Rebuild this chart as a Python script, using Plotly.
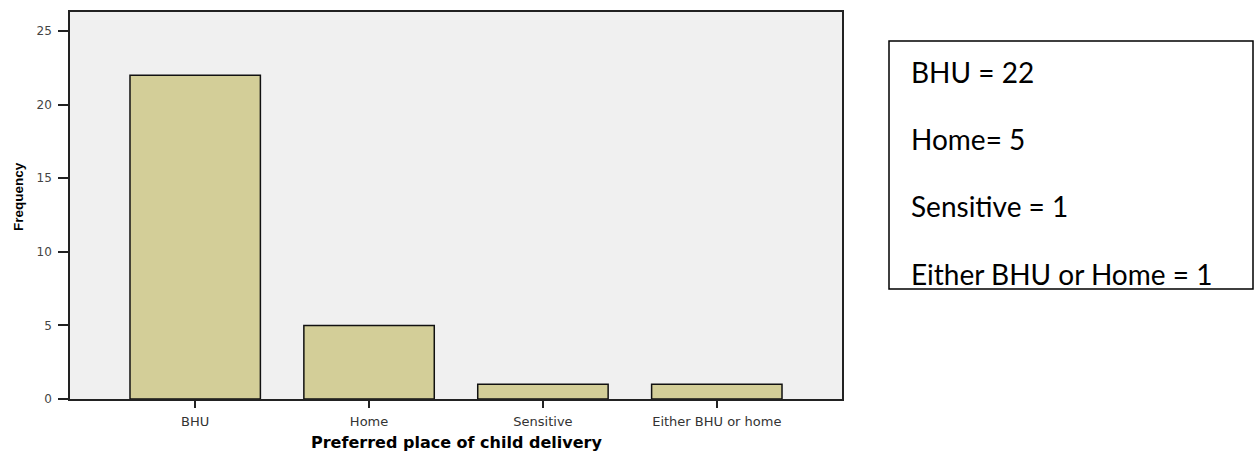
import plotly.graph_objects as go

categories = ["BHU", "Home", "Sensitive", "Either BHU or home"]
frequency = [22, 5, 1, 1]
y_ticks = [0, 5, 10, 15, 20, 25]
box_lines = ["BHU = 22", "Home= 5", "Sensitive = 1", "Either BHU or Home = 1"]

W, H = 1259, 452
L, R, T, B = 70, 842, 12, 399  # plot area in page px

fig = go.Figure()
fig.add_trace(go.Bar(
    x=list(range(len(categories))), y=frequency, width=0.75,
    marker=dict(color="#d3ce98", line=dict(color="#111111", width=1.5)),
    hoverinfo="skip",
))

def px_x(px):
    return (px - L) / (R - L)

def px_y(py):
    return (B - py) / (B - T)

shapes = [dict(type="rect", xref="paper", yref="paper",
               x0=px_x(889), x1=px_x(1253), y0=px_y(289), y1=px_y(41),
               line=dict(color="#000000", width=1.5), fillcolor="rgba(0,0,0,0)")]

line_centers = [72, 139, 206, 274]
annotations = []
for txt, cy in zip(box_lines, line_centers):
    annotations.append(dict(text=txt, xref="paper", yref="paper", x=px_x(909), y=px_y(cy),
                            xanchor="left", yanchor="middle", showarrow=False,
                            font=dict(family="Lato", size=28, color="#000000")))

annotations.append(dict(text="<b>Frequency</b>", xref="paper", yref="paper",
                        x=px_x(18), y=px_y(197), xanchor="center", yanchor="middle",
                        textangle=-90, showarrow=False,
                        font=dict(family="Liberation Sans, Arial", size=13.5, color="#000000")))
annotations.append(dict(text="<b>Preferred place of child delivery</b>", xref="paper", yref="paper",
                        x=px_x(456), y=px_y(443), xanchor="center", yanchor="middle",
                        showarrow=False,
                        font=dict(family="DejaVu Sans", size=16, color="#000000")))

fig.update_layout(
    width=W, height=H,
    margin=dict(l=L, r=W - R, t=T, b=H - B, pad=0, autoexpand=False),
    paper_bgcolor="#ffffff", plot_bgcolor="#f0f0f0",
    showlegend=False,
    shapes=shapes, annotations=annotations,
    xaxis=dict(
        tickmode="array", tickvals=list(range(len(categories))), ticktext=categories,
        range=[-0.72, 3.72], showgrid=False, zeroline=False, automargin=False,
        showline=True, mirror=True, linecolor="#222222", linewidth=1.5,
        ticks="outside", ticklen=7, tickcolor="#222222", tickwidth=1.5,
        ticklabelstandoff=3,
        tickfont=dict(family="DejaVu Sans", size=13, color="#333333"),
    ),
    yaxis=dict(
        tickmode="array", tickvals=y_ticks, range=[0, 26.3],
        showgrid=False, zeroline=False, automargin=False,
        showline=True, mirror=True, linecolor="#222222", linewidth=1.5,
        ticks="outside", ticklen=10, tickcolor="#222222", tickwidth=1.5,
        ticklabelstandoff=4,
        tickfont=dict(family="DejaVu Sans", size=12, color="#444444"),
    ),
)

fig.write_html("out.html", config={"displayModeBar": False},
               post_script="document.body.style.margin='0px';document.body.style.overflow='hidden';")
